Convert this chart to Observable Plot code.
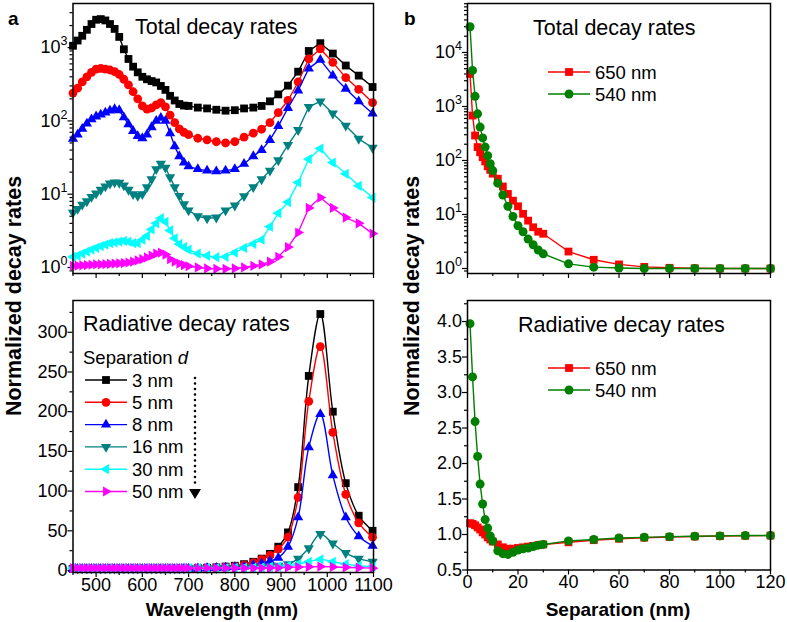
<!DOCTYPE html>
<html><head><meta charset="utf-8">
<script src="https://cdn.jsdelivr.net/npm/d3@7"></script>
<script src="https://cdn.jsdelivr.net/npm/@observablehq/plot@0.6"></script>
<style>
body{margin:0;background:#fff;}
#root{position:relative;width:787px;height:622px;overflow:hidden;font-family:"Liberation Sans",Arial,sans-serif;}
#root svg{position:absolute;overflow:visible;}
</style></head><body><div id="root"></div>
<script>
// ---------- Panel a: wavelength grid (nm) ----------
const wavelength = [450,460,470,480,490,500,510,520,530,540,550,560,570,580,590,600,610,620,630,640,650,660,670,680,690,
  700,720,740,760,780,800,820,840,858,876,894,915,937,960,985,1012,1040,1068,1098];

// Total decay rates (log scale)
const total3  = [1060,1250,1450,1750,2100,2400,2450,2350,2100,1800,1400,950,700,550,460,400,370,350,335,300,265,220,190,170,162,
  160,152,148,142,138,140,148,152,160,185,230,303,470,900,1150,830,570,415,290];
const total5  = [240,280,340,400,460,510,520,510,495,470,430,370,310,250,200,160,145,150,165,178,155,120,95,78,70,
  65,58,55,52,50,52,60,68,77,95,130,190,340,700,960,630,390,270,178];
const total8  = [57,65,78,92,105,115,122,130,138,145,140,112,90,73,62,58,65,82,100,110,100,68,45,33,27,
  24,22,21,20.5,21,22,26,33,40,55,85,150,260,520,680,415,275,185,126];
const total16 = [5.6,6.3,7.2,8,9.2,10.2,11.5,12.8,14,14.5,14.3,13.2,11.5,10,9.5,10,12.5,16,22,26,23,17,12.5,9.5,7.3,
  6,5,4.7,4.8,6,7,9.4,12.5,16,21,29,47,75,155,185,126,86,57,43];
const total30 = [1.4,1.45,1.55,1.65,1.75,1.85,1.95,2.05,2.15,2.2,2.25,2.3,2.25,2.15,2.15,2.4,2.7,3.3,4.0,4.7,4.2,3.2,2.5,2.1,1.9,
  1.75,1.55,1.45,1.38,1.4,1.6,1.85,2.1,2.4,3.6,5.5,7.8,14.5,30,42,27,19,13,9];
const total50 = [1.05,1.06,1.07,1.08,1.09,1.1,1.1,1.11,1.12,1.13,1.14,1.15,1.17,1.2,1.25,1.3,1.37,1.45,1.55,1.6,1.5,1.3,1.2,1.13,1.08,
  1.04,1.0,0.97,0.96,0.96,0.97,1.0,1.05,1.1,1.2,1.4,1.9,3.0,6.5,9,6.5,4.8,4.0,2.9];

// Radiative decay rates (linear scale)
const rad3  = [2,2,2,2,2,2,2,2,2,2,2,2,2,2,2,2,2,2,2,2,2,2,2,2,2.2,
  2.5,3,3.5,4,5,6,8,11,15,21,30,48,105,245,323,200,110,69,50];
const rad5  = [2,2,2,2,2,2,2,2,2,2,2,2,2,2,2,2,2,2,2,2,2,2,2,2,2.2,
  2.4,2.8,3.2,3.7,4.3,5.3,7,10,14,19,27,42,92,213,282,174,96,60,42];
const rad8  = [2,2,2,2,2,2,2,2,2,2,2,2,2,2,2,2,2,2,2,2,2,2,2,2,2.2,
  2.3,2.6,3,3.3,3.7,4.3,5,7,9,12,16,30,67,155,197,120,67,43,31];
const rad16 = [2.5,2.5,2.5,2.5,2.5,2.5,2.5,2.5,2.5,2.5,2.5,2.5,2.5,2.5,2.5,2.5,2.5,2.5,2.5,2.5,2.5,2.5,2.5,2.5,2.5,
  2.5,2.6,2.7,2.8,3,3.2,3.5,4,4.5,5,6,8,15,28,46,34,22,15,11];
const rad30 = [3,3,3,3,3,3,3,3,3,3,3,3,3,3,3,3,3,3,3,3,3,3,3,3,3,
  3,3,3,3,3,3.2,3.4,3.6,4,4.5,5,6,8,11,14,11,8,6,5];
const rad50 = [3,3,3,3,3,3,3,3,3,3,3,3,3,3,3,3,3,3,3,3,3,3,3,3,3,
  3,3,3,3,3,3,3,3,3.2,3.4,3.6,4,4.3,4.6,5,4.5,4,3.5,3];

const separationLabels = ["3 nm","5 nm","8 nm","16 nm","30 nm","50 nm"];
const colorsA = ["#000000","#ff0000","#0000ff","#008080","#00ffff","#ff00ff"];

// ---------- Panel b: separation (nm) ----------
const separation = [1,2,3,4,5,6,7,8,9,10,12,14,16,18,20,22,24,26,28,30,40,50,60,70,80,90,100,110,120];
const totalAt650 = [4000,680,290,177,142,115,96,78,67,57,46,33,24,18,14.2,10.3,7.7,5.8,4.8,4.4,2.06,1.45,1.19,1.07,1.03,1.01,1.0,1.0,1.0];
const totalAt540 = [30000,4650,1540,730,415,262,177,123,87,65,38,23,14.2,9.2,6.2,4.8,3.5,2.75,2.2,1.87,1.22,1.06,1.02,1.0,1.0,1.0,1.0,1.0,1.0];
const radAt650 = [1.16,1.15,1.13,1.1,1.07,1.03,1.0,0.96,0.93,0.9,0.86,0.82,0.8,0.8,0.81,0.82,0.83,0.84,0.85,0.86,0.89,0.92,0.94,0.955,0.965,0.972,0.978,0.982,0.985];
const radAt540 = [3.97,3.22,2.59,2.10,1.71,1.43,1.21,1.09,0.98,0.91,0.77,0.73,0.72,0.75,0.78,0.8,0.81,0.83,0.85,0.86,0.91,0.93,0.95,0.96,0.97,0.975,0.98,0.985,0.985];
const wavelengthLabels = ["650 nm","540 nm"];
const colorsB = ["#ff0000","#008000"];

// tick labels (base ^ exponent, drawn with a raised exponent)
const logTickValues = [1,10,100,1000,10000];
const logTickLabels = ["10^0","10^1","10^2","10^3","10^4"];
const logLabel = d => logTickLabels[logTickValues.indexOf(d)] ?? "";

// ---------- symbols ----------
function tri(dir){
  return {draw(ctx, size){
    const s = Math.sqrt(size*4/Math.sqrt(3)), h = s*Math.sqrt(3)/2;
    const p = [[0,-2*h/3],[s/2,h/3],[-s/2,h/3]];
    const rot = {up:0, right:90, down:180, left:270}[dir]*Math.PI/180;
    p.forEach(([x,y],i)=>{const X=x*Math.cos(rot)-y*Math.sin(rot), Y=x*Math.sin(rot)+y*Math.cos(rot); i?ctx.lineTo(X,Y):ctx.moveTo(X,Y);});
    ctx.closePath();
  }};
}
const symsA = [d3.symbolSquare, d3.symbolCircle, tri("up"), tri("down"), tri("left"), tri("right")];
const rA = [4.4, 4.4, 3.8, 3.8, 3.8, 3.8];
const symsB = [d3.symbolSquare, d3.symbolCircle];
const rB = [4.4, 4.5];

const root = document.getElementById("root");
const style = {fontFamily:"'Liberation Sans', Arial, sans-serif", fontSize:"18px", color:"#000", background:"none", overflow:"visible"};
function supify(svg){
  svg.querySelectorAll("text").forEach(t => {
    const m = t.textContent.match(/^(\d+)\^(\d)$/);
    if (!m) return;
    t.textContent = m[1];
    const ts = document.createElementNS("http://www.w3.org/2000/svg","tspan");
    ts.setAttribute("dy","-8"); ts.setAttribute("font-size","12.5"); ts.textContent = m[2];
    t.appendChild(ts);
  });
}
function place(svg, left, top){ supify(svg); svg.style.left = left+"px"; svg.style.top = top+"px"; root.appendChild(svg); }
const blank = () => "";
const plain = d => String(d);

function seriesMarks(xs, ys, color, sym, r, curve){
  const data = xs.map((x,i)=>({x, y: ys[i]}));
  return [
    Plot.line(data, {x:"x", y:"y", stroke: color, strokeWidth: 1.4, curve}),
    Plot.dot(data, {x:"x", y:"y", symbol: sym, r, fill: color})
  ];
}

const xMajA = [500,600,700,800,900,1000,1100], xMinA = [450,550,650,750,850,950,1050];
const xMajB = [0,20,40,60,80,100,120], xMinB = [10,30,50,70,90,110];
const logMinor = (lo, hi) => { const t=[]; for (let e=lo;e<hi;e++) for (let m=2;m<=9;m++) t.push(m*Math.pow(10,e)); return t; };

// Panel a, top
place(Plot.plot({
  width: 390, height: 290, marginLeft: 72.5, marginRight: 17, marginTop: 3, marginBottom: 17, style,
  x: {domain: [450,1100]}, y: {type: "log", domain: [0.828, 4000]},
  marks: [
    Plot.axisX({ticks: xMajA, tickSize: 5, tickFormat: blank, label: null, strokeWidth: 1.2}),
    Plot.axisX({ticks: xMinA, tickSize: 3, tickFormat: blank, label: null, strokeWidth: 1.2}),
    Plot.axisY({ticks: [1,10,100,1000], tickSize: 5, tickPadding: 0.5, tickFormat: logLabel, label: null, strokeWidth: 1.2}),
    Plot.axisY({ticks: [0.9, ...logMinor(0,3), 2000, 3000], tickSize: 3, tickFormat: blank, label: null, strokeWidth: 1.2}),
    ...[total3,total5,total8,total16,total30,total50].flatMap((s,k)=>seriesMarks(wavelength, s, colorsA[k], symsA[k], rA[k], "linear")),
    Plot.frame({stroke: "#000", strokeWidth: 1.5})
  ]
}), 0, 0);

// Panel a, bottom
place(Plot.plot({
  width: 390, height: 332, marginLeft: 72.5, marginRight: 17, marginTop: 10, marginBottom: 50, style,
  x: {domain: [450,1100]}, y: {domain: [-2.5, 340]},
  marks: [
    Plot.axisX({ticks: xMajA, tickSize: 5, tickPadding: 0.5, tickFormat: plain, label: null, strokeWidth: 1.2}),
    Plot.axisX({ticks: xMinA, tickSize: 3, tickFormat: blank, label: null, strokeWidth: 1.2}),
    Plot.axisY({ticks: [0,50,100,150,200,250,300], tickSize: 5, tickPadding: 0.5, tickFormat: plain, label: null, strokeWidth: 1.2}),
    Plot.axisY({ticks: [25,75,125,175,225,275,325], tickSize: 3, tickFormat: blank, label: null, strokeWidth: 1.2}),
    ...[rad3,rad5,rad8,rad16,rad30,rad50].flatMap((s,k)=>seriesMarks(wavelength, s, colorsA[k], symsA[k], rA[k], "catmull-rom")),
    Plot.frame({stroke: "#000", strokeWidth: 1.5})
  ]
}), 0, 290);

// Panel b, top
place(Plot.plot({
  width: 397, height: 290, marginLeft: 77, marginRight: 17, marginTop: 3, marginBottom: 17, style,
  x: {domain: [0,120]}, y: {type: "log", domain: [0.808, 80700]},
  marks: [
    Plot.axisX({ticks: xMajB, tickSize: 5, tickFormat: blank, label: null, strokeWidth: 1.2}),
    Plot.axisX({ticks: xMinB, tickSize: 3, tickFormat: blank, label: null, strokeWidth: 1.2}),
    Plot.axisY({ticks: [1,10,100,1000,10000], tickSize: 5, tickPadding: 0.5, tickFormat: logLabel, label: null, strokeWidth: 1.2}),
    Plot.axisY({ticks: [0.9, ...logMinor(0,4), 20000,30000,40000,50000,60000,70000,80000], tickSize: 3, tickFormat: blank, label: null, strokeWidth: 1.2}),
    ...[totalAt650,totalAt540].flatMap((s,k)=>seriesMarks(separation, s, colorsB[k], symsB[k], rB[k], "linear")),
    Plot.frame({stroke: "#000", strokeWidth: 1.5})
  ]
}), 390, 0);

// Panel b, bottom
place(Plot.plot({
  width: 397, height: 332, marginLeft: 77, marginRight: 17, marginTop: 10, marginBottom: 52.5, style,
  x: {domain: [0,120]}, y: {domain: [0.5, 4.296]},
  marks: [
    Plot.axisX({ticks: xMajB, tickSize: 5, tickPadding: 0.5, tickFormat: plain, label: null, strokeWidth: 1.2}),
    Plot.axisX({ticks: xMinB, tickSize: 3, tickFormat: blank, label: null, strokeWidth: 1.2}),
    Plot.axisY({ticks: [0.5,1,1.5,2,2.5,3,3.5,4], tickSize: 5, tickPadding: 0.5, tickFormat: d3.format(".1f"), label: null, strokeWidth: 1.2}),
    Plot.axisY({ticks: [0.75,1.25,1.75,2.25,2.75,3.25,3.75,4.25], tickSize: 3, tickFormat: blank, label: null, strokeWidth: 1.2}),
    ...[radAt650,radAt540].flatMap((s,k)=>seriesMarks(separation, s, colorsB[k], symsB[k], rB[k], "linear")),
    Plot.frame({stroke: "#000", strokeWidth: 1.5})
  ]
}), 390, 290);

// ---------- Overlay: labels and legends ----------
const ov = d3.select(root).append("svg").attr("width",787).attr("height",622)
  .style("left","0px").style("top","0px").style("font-family","'Liberation Sans', Arial, sans-serif");
function txt(x,y,s,size,opts={}){
  const t = ov.append("text").attr("x",x).attr("y",y).attr("font-size",size).attr("fill","#000").text(s);
  if (opts.bold) t.attr("font-weight","bold");
  if (opts.anchor) t.attr("text-anchor",opts.anchor);
  if (opts.rotate) t.attr("transform",`rotate(-90 ${x} ${y})`);
  return t;
}
txt(8,25,"a",19,{bold:true});
txt(404,25,"b",19,{bold:true});
txt(135,34,"Total decay rates",21.5);
txt(533,35,"Total decay rates",21.5);
txt(83,331,"Radiative decay rates",21.5);
txt(518,332,"Radiative decay rates",21.5);
txt(21,296,"Normalized decay rates",21.5,{bold:true,anchor:"middle",rotate:true});
txt(419,296,"Normalized decay rates",21.5,{bold:true,anchor:"middle",rotate:true});
txt(222,616,"Wavelength (nm)",19,{bold:true,anchor:"middle"});
txt(618,616,"Separation (nm)",19,{bold:true,anchor:"middle"});
const sep = txt(83,364,"Separation ",18.5);
sep.append("tspan").attr("font-style","italic").text("d");

function legendRow(x0,x1,cy,color,sym,r,label){
  ov.append("line").attr("x1",x0).attr("x2",x1).attr("y1",cy).attr("y2",cy).attr("stroke",color).attr("stroke-width",1.4);
  ov.append("path").attr("d",d3.symbol(sym, Math.PI*r*r)()).attr("transform",`translate(${(x0+x1)/2},${cy})`).attr("fill",color);
  txt(x1+5,cy+6.5,label,18.5);
}
separationLabels.forEach((lab,k)=>legendRow(85,127,380+k*22.3,colorsA[k],symsA[k],rA[k],lab));
wavelengthLabels.forEach((lab,k)=>{
  legendRow(548,590,72+k*22,colorsB[k],symsB[k],rB[k],lab);
  legendRow(548,590,368+k*22,colorsB[k],symsB[k],rB[k],lab);
});
// dotted arrow
ov.append("line").attr("x1",195).attr("x2",195).attr("y1",378).attr("y2",487)
  .attr("stroke","#000").attr("stroke-width",2.6).attr("stroke-dasharray","0 5.5").attr("stroke-linecap","round");
ov.append("path").attr("d","M189,489 L201,489 L195,499 Z").attr("fill","#000");
</script></body></html>
